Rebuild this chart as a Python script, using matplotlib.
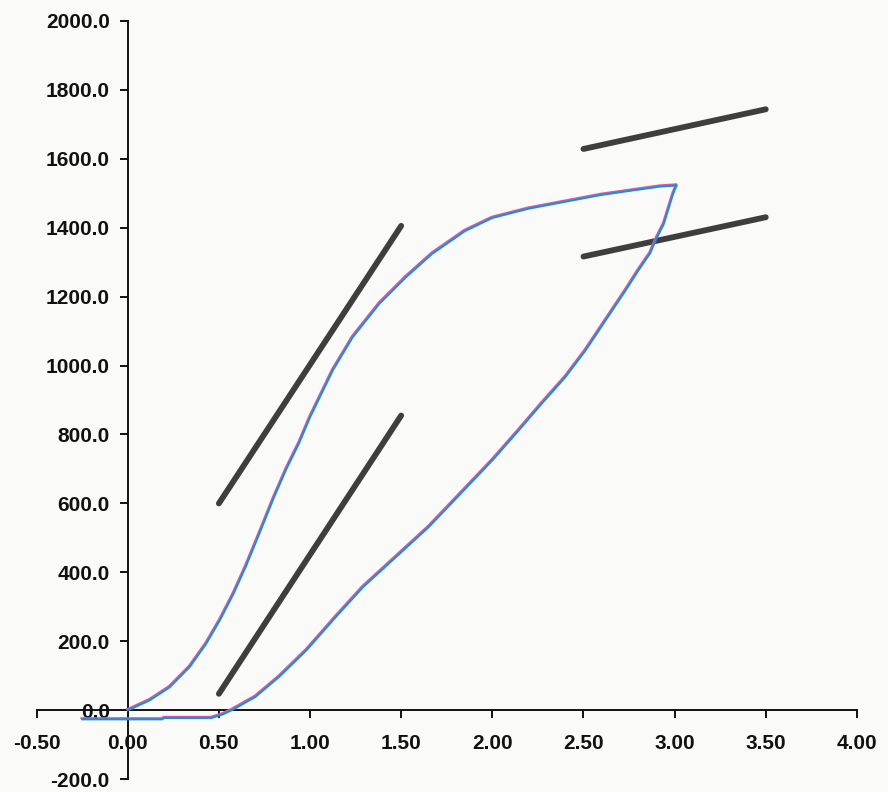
import matplotlib.pyplot as plt
from matplotlib import transforms

# Datos (rama inferior y rama superior del lazo)
rama_inf_x = [-0.25, 0.19, 0.20, 0.46, 0.52, 0.576, 0.70, 0.83, 0.98, 1.14, 1.29, 1.47,
              1.65, 1.80, 2.00, 2.145, 2.27, 2.40, 2.51, 2.62, 2.73, 2.80, 2.865,
              2.90, 2.94, 2.99, 3.01]
rama_inf_y = [-26, -26, -22, -22, -12, 2, 39, 97, 174, 270, 357, 444,
              531, 614, 725, 812, 889, 966, 1043, 1130, 1217, 1275, 1325,
              1368, 1410, 1495, 1522]

rama_sup_x = [0.0, 0.12, 0.23, 0.34, 0.43, 0.505, 0.58, 0.65, 0.72, 0.80, 0.87, 0.94,
              1.0, 1.125, 1.234, 1.38, 1.526, 1.67, 1.85, 2.0, 2.2, 2.4, 2.6, 2.8,
              2.92, 3.01]
rama_sup_y = [0, 29, 67, 126, 193, 261, 338, 420, 510, 615, 700, 775,
              850, 986, 1082, 1179, 1256, 1324, 1390, 1428, 1455, 1475, 1495, 1510,
              1519, 1522]

# Rectas de referencia
rectas_x = [[0.5, 1.5], [0.5, 1.5], [2.5, 3.5], [2.5, 3.5]]
rectas_y = [[600, 1405], [48, 855], [1628, 1743], [1316, 1430]]

xticks = [-0.5, 0.0, 0.5, 1.0, 1.5, 2.0, 2.5, 3.0, 3.5, 4.0]
yticks = [-200, 0, 200, 400, 600, 800, 1000, 1200, 1400, 1600, 1800, 2000]

plt.rcParams['font.family'] = ['Liberation Sans', 'DejaVu Sans']

fig = plt.figure(figsize=(8.88, 7.92), dpi=100)
fig.patch.set_facecolor('#fafaf9')
ax = fig.add_axes([0.0412, 0.016, 0.9238, 0.9579])
ax.set_facecolor('none')

for xs, ys in zip(rectas_x, rectas_y):
    ax.plot(xs, ys, color='#3e3e3e', lw=4.2, solid_capstyle='round', zorder=2)

# linea rosa ligeramente desplazada y linea azul encima
off = transforms.ScaledTranslation(-0.6 / 72, 0.9 / 72, fig.dpi_scale_trans)
for xs, ys in [(rama_inf_x, rama_inf_y), (rama_sup_x, rama_sup_y)]:
    ax.plot(xs, ys, color='#e0569a', lw=1.3, transform=ax.transData + off, zorder=3)
    ax.plot(xs, ys, color='#1a8ed8', lw=1.5, zorder=4)

ax.set_xlim(-0.5, 4.0)
ax.set_ylim(-200, 2000)
ax.spines['left'].set_position(('data', 0))
ax.spines['bottom'].set_position(('data', 0))
ax.spines['top'].set_visible(False)
ax.spines['right'].set_visible(False)
for s in ['left', 'bottom']:
    ax.spines[s].set_linewidth(1.4)
    ax.spines[s].set_color('#111111')

ax.set_xticks(xticks)
ax.set_xticklabels([f"{v:.2f}" for v in xticks])
ax.set_yticks(yticks)
ax.set_yticklabels([f"{v:.1f}" for v in yticks])
ax.tick_params(axis='both', direction='out', length=6, width=1.4, colors='#111111',
               labelsize=15)
ax.tick_params(axis='x', pad=11)
ax.tick_params(axis='y', pad=7)
for lab in ax.get_xticklabels() + ax.get_yticklabels():
    lab.set_fontweight('bold')

fig.savefig("out.png", dpi=100, facecolor=fig.get_facecolor())
plt.close()
